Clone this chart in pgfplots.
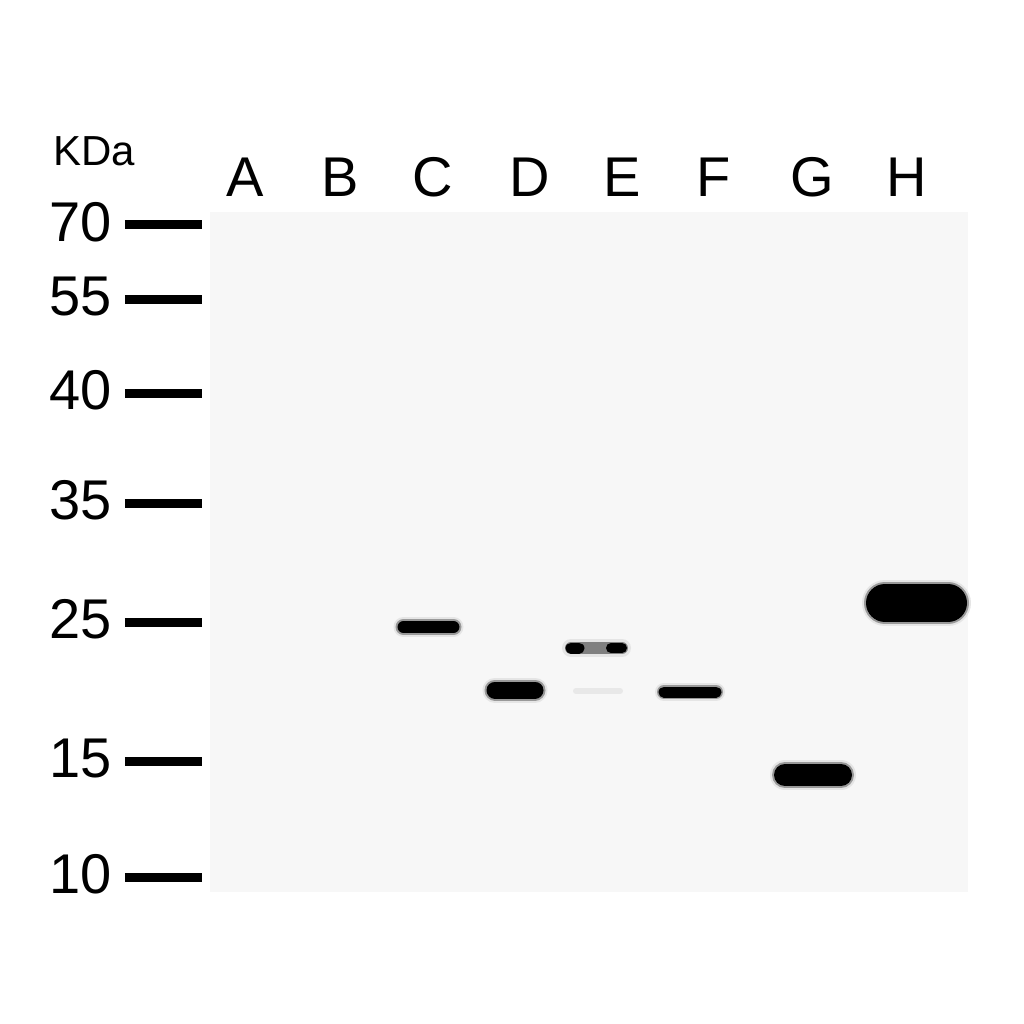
\documentclass[border=0pt]{standalone}
\usepackage{pgfplots}
\pgfplotsset{compat=1.18}
\usepackage{fontspec}
\setmainfont{Liberation Sans}

% 1 px of the reference = 0.5pt
\pgfplotsset{
  halo/.style={black!10, line width=#1, line cap=round, forget plot},
  mid/.style={black!40, line width=#1, line cap=round, forget plot},
  core/.style={black, line width=#1, line cap=round, forget plot},
  ladder/.style={black, line width=4.5pt, line cap=butt, forget plot},
}

\begin{document}
\begin{tikzpicture}
\begin{axis}[
    scale only axis,
    width=379pt, height=340pt,
    xmin=210, xmax=968,
    ymin=212, ymax=892,
    y dir=reverse,
    clip=false,
    axis background/.style={fill=black!3},
    axis line style={draw=none},
    major tick length=0pt,
    xtick={245,340,433,530,622,714,812,907},
    xticklabels={A,B,C,D,E,F,G,H},
    xticklabel pos=right,
    x tick label style={font=\fontsize{28}{30}\selectfont, anchor=base, inner sep=0pt, yshift=8pt},
    ytick={224.5,299,393,503,622,761,877},
    yticklabels={\mbox{70},\mbox{55},\mbox{40},\mbox{35},\mbox{25},\mbox{15},\mbox{10}},
    y tick label style={font=\fontsize{28}{30}\selectfont, anchor=east, inner sep=0pt, xshift=-49pt, yshift=1.2pt},
]
% marker ladder
\addplot[ladder] coordinates {(125,224.5) (202,224.5)};
\addplot[ladder] coordinates {(125,299) (202,299)};
\addplot[ladder] coordinates {(125,393) (202,393)};
\addplot[ladder] coordinates {(125,503) (202,503)};
\addplot[ladder] coordinates {(125,622) (202,622)};
\addplot[ladder] coordinates {(125,761) (202,761)};
\addplot[ladder] coordinates {(125,877) (202,877)};

% lane C
\addplot[halo=10pt] coordinates {(403.5,627) (453.5,627)};
\addplot[mid=8pt] coordinates {(403.5,627) (453.5,627)};
\addplot[core=6pt] coordinates {(403.5,627) (453.5,627)};
% lane D
\addplot[halo=12.5pt] coordinates {(495,690) (535,690)};
\addplot[mid=10.5pt] coordinates {(495,690) (535,690)};
\addplot[core=8.5pt] coordinates {(495,690) (535,690)};
% lane E
\addplot[halo=9pt] coordinates {(571,648) (622,648)};
\addplot[mid=6pt, black!50] coordinates {(571,648) (622,648)};
\addplot[core=5.5pt] coordinates {(571,648) (579,648)};
\addplot[core=5pt] coordinates {(611,648) (622,648)};
\addplot[black!9, line width=3pt, line cap=round, forget plot] coordinates {(576,691) (620,691)};
% lane F
\addplot[halo=9pt] coordinates {(664,692) (716,692)};
\addplot[mid=7pt] coordinates {(664,692) (716,692)};
\addplot[core=5.5pt] coordinates {(664,692) (716,692)};
% lane G
\addplot[halo=15pt] coordinates {(785,775) (841,775)};
\addplot[mid=13pt] coordinates {(785,775) (841,775)};
\addplot[core=11pt] coordinates {(785,775) (841,775)};
% lane H
\addplot[halo=23pt] coordinates {(885,603) (948,603)};
\addplot[mid=21pt] coordinates {(885,603) (948,603)};
\addplot[core=19pt] coordinates {(885,603) (948,603)};

\node[font=\fontsize{21}{24}\selectfont, anchor=base west, inner sep=0pt] at (axis cs:53,165) {KDa};
\coordinate (pagetl) at (axis cs:0,0);
\coordinate (pagebr) at (axis cs:1024,1024);
\end{axis}
\pgfresetboundingbox
\path[use as bounding box] (pagetl) rectangle (pagebr);
\end{tikzpicture}
\end{document}
